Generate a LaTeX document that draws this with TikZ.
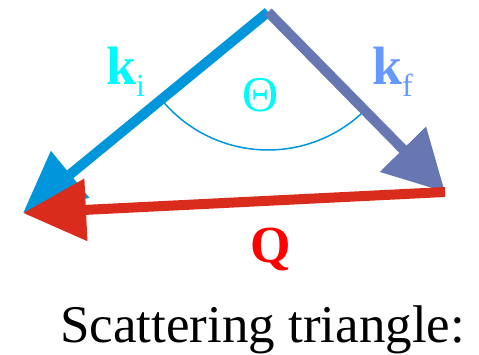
\documentclass[tikz,border=0pt]{standalone}
\usepackage{fontspec}
\setmainfont{Liberation Serif}
\usetikzlibrary{arrows.meta}
\definecolor{KiBlue}{RGB}{0,150,220}
\definecolor{KfSlate}{RGB}{102,119,178}
\definecolor{QRed}{RGB}{218,44,28}
\definecolor{KiCyan}{RGB}{0,250,250}
\definecolor{KfLight}{RGB}{102,153,255}
\definecolor{QLabel}{RGB}{255,0,0}
\begin{document}
\begin{tikzpicture}[x=1pt, y=1pt, vec/.style={line width=10pt}, lbl/.style={inner sep=0pt, font=\fontsize{54}{54}\selectfont\bfseries}]
\useasboundingbox (0,0) rectangle (479,355);
\coordinate (apex) at (268,343);
\coordinate (ki) at (23,142);
\coordinate (kf) at (445,163);
\draw[KiBlue, line width=1.5pt] (apex) ++(219.4:138pt) arc[start angle=219.4, end angle=314.5, radius=138pt];
\draw[vec, KiBlue, -{Triangle[length=61pt, width=58pt]}] (apex) -- (ki);
\draw[vec, KfSlate, -{Triangle[length=60pt, width=62pt]}] (apex) -- (kf);
\draw[vec, QRed, -{Triangle[length=63pt, width=60pt]}] (kf) -- (ki);
\node[lbl, KiCyan, anchor=base west] (kilabel) at (106,270) {k\raisebox{-12pt}{\fontsize{32}{32}\selectfont\mdseries i}};
\node[lbl, KfLight, anchor=base west] (kflabel) at (372,270) {k\raisebox{-12pt}{\fontsize{32}{32}\selectfont\mdseries f}};
\node[lbl, KiCyan, anchor=base, font=\fontsize{50}{50}\selectfont] (theta) at (261,243) {Θ};
\node[lbl, QLabel, anchor=base, font=\fontsize{52}{52}\selectfont\bfseries] (q) at (271,92) {Q};
\node[inner sep=0pt, anchor=base west, font=\fontsize{53}{53}\selectfont] (caption) at (60,12) {Scattering triangle:};
\end{tikzpicture}
\end{document}
